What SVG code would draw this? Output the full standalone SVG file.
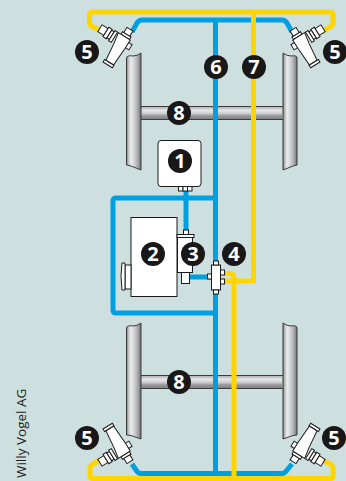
<svg xmlns="http://www.w3.org/2000/svg" width="346" height="481" viewBox="0 0 346 481">
<style>
.y{fill:none;stroke:#ffd500;stroke-width:5;stroke-linejoin:round}
.b{fill:none;stroke:#00a0e0;stroke-width:5;stroke-linejoin:round}
.w{fill:#fff;stroke:#1a1a1a;stroke-width:1}
.bg{fill:#1a1718}
.n{font-family:"Open Sans","Noto Sans",sans-serif;font-weight:700;font-size:20px;fill:#fff;text-anchor:middle}
.s{stroke:#3c3c3c;stroke-width:1}
</style>
<defs>
<linearGradient id="gv" x1="0" x2="1" y1="0" y2="0"><stop offset="0" stop-color="#77797c"/><stop offset=".12" stop-color="#b9bbbd"/><stop offset=".3" stop-color="#eceded"/><stop offset=".55" stop-color="#cfd0d2"/><stop offset=".8" stop-color="#a3a5a8"/><stop offset="1" stop-color="#6c6e71"/></linearGradient>
<linearGradient id="gh" x1="0" x2="0" y1="0" y2="1"><stop offset="0" stop-color="#a9abae"/><stop offset=".3" stop-color="#e6e7e8"/><stop offset=".55" stop-color="#c9cacc"/><stop offset=".72" stop-color="#97999c"/><stop offset="1" stop-color="#7c7e81"/></linearGradient>
<g id="valve">
<rect class="w" x="-26" y="-4" width="7" height="8"/>
<rect class="w" x="-19" y="-5.500" width="4" height="11"/>
<rect class="w" x="-15" y="-4.500" width="3" height="9"/>
<rect class="w" x="-12" y="-6" width="3" height="12"/>
<rect class="w" x="5" y="-3" width="5" height="6"/>
<rect class="w" x="-3.500" y="-15" width="7" height="9"/>
<rect class="w" x="-5" y="-9" width="10" height="3"/>
<path class="w" d="M-8-6H6V4L5 24H-4L-6 6Z"/>
<rect class="w" x="-5.500" y="24" width="11" height="3"/>
</g>
</defs>
<rect width="346" height="481" fill="#cde0df"/>
<g id="axle-front">
<rect x="140" y="106.500" width="142" height="13" fill="url(#gh)"/>
<path d="M140 106.500H283M140 119.500H283" fill="none" class="s"/>
<path d="M126.500 58Q127 55 133 56Q137 56 141 53V170L131 166L126.500 165Z" fill="url(#gv)" class="s"/>
<path d="M283 53Q287 56 291 56Q297 55 297 58V165L293 166L283 170Z" fill="url(#gv)" class="s"/>
</g>
<g id="axle-rear">
<rect x="140" y="375.500" width="142" height="13" fill="url(#gh)"/>
<path d="M140 375.500H283M140 388.500H283" fill="none" class="s"/>
<path d="M126.500 328Q127 325 133 326Q137 326 141 323V439L131 435.500L126.500 435Z" fill="url(#gv)" class="s"/>
<path d="M283 323Q287 326 291 326Q297 325 297 328V435L293 435.500L283 439Z" fill="url(#gv)" class="s"/>
</g>
<g id="connectors">
<path class="b" d="M132 32L137 23Q139 20 142 20H282Q285 20 287 23L292 32"/>
<path class="b" d="M132 464L136 470Q138 473.500 141 473.500H282Q285 473.500 287 470L292 464"/>
<path class="b" d="M215.500 20V473"/>
<path class="b" d="M215.500 198H116Q113 198 113 201V310Q113 313 116 313H215.500"/>
<path class="b" d="M186 190V232"/>
<path class="b" d="M190 277H212"/>
<path class="y" d="M103 32L91.500 26Q89.500 25 89.500 23V15Q89.500 12 92.500 12H330Q333 12 333 15V23Q333 25 331 26L322 32"/>
<path class="y" d="M100 460L92 464.500Q90 466 90 468V475.500Q90 478.500 93 478.500H330Q333 478.500 333 475.500V468Q333 466 331 464.500L322 460"/>
<path class="y" d="M253.500 12V281H222"/>
<path class="y" d="M222 273.500H230Q234 273.500 234 278V481"/>
</g>
<g id="valve-fl"><use href="#valve" transform="translate(122 42) rotate(32)"/></g>
<g id="valve-fr"><use href="#valve" transform="translate(301 42) scale(-1 1) rotate(32)"/></g>
<g id="valve-rl"><use href="#valve" transform="translate(122 449) scale(1 -1) rotate(32)"/></g>
<g id="valve-rr"><use href="#valve" transform="translate(301 449) scale(-1 -1) rotate(32)"/></g>
<g id="node-1">
<rect class="w" x="158" y="140.500" width="43" height="46" rx="3"/>
<rect class="w" x="178.500" y="186.500" width="4.500" height="4.500"/><rect class="w" x="183" y="186.500" width="4.500" height="4.500"/><rect class="w" x="187.500" y="186.500" width="4.500" height="4.500"/>
<circle class="bg" cx="180" cy="161" r="12"/><text class="n" x="180" y="168">1</text>
</g>
<g id="node-2">
<rect class="w" x="131" y="217.500" width="46" height="79"/>
<rect class="w" x="125" y="265" width="6" height="24"/>
<path class="w" d="M125 263H122Q120 276 122 290H125Z"/>
<circle class="bg" cx="153" cy="254" r="12"/><text class="n" x="153" y="261">2</text>
</g>
<g id="node-3">
<rect class="w" x="183.500" y="230" width="5" height="5"/>
<rect class="w" x="177" y="234.500" width="17" height="3"/>
<rect class="w" x="177.500" y="237.500" width="15" height="35"/>
<rect class="w" x="181.500" y="272.500" width="8" height="11"/>
<circle class="bg" cx="193" cy="254" r="12"/><text class="n" x="193" y="261">3</text>
</g>
<g id="node-4">
<rect class="w" x="211.500" y="265" width="9" height="25"/>
<rect class="w" x="213.500" y="261" width="5" height="4"/><rect class="w" x="213.500" y="290" width="5" height="4"/>
<rect class="w" x="207.500" y="274" width="4" height="5"/>
<rect class="w" x="220.500" y="270" width="4" height="5"/><rect class="w" x="220.500" y="279" width="4" height="5"/>
<circle class="bg" cx="234" cy="254" r="12"/><text class="n" x="234" y="261">4</text>
</g>
<g id="label-5a"><circle class="bg" cx="87" cy="52" r="12"/><text class="n" x="87" y="59">5</text></g>
<g id="label-5b"><circle class="bg" cx="335" cy="52" r="12"/><text class="n" x="335" y="59">5</text></g>
<g id="label-5c"><circle class="bg" cx="87" cy="438" r="12"/><text class="n" x="87" y="445">5</text></g>
<g id="label-5d"><circle class="bg" cx="334" cy="438" r="12"/><text class="n" x="334" y="445">5</text></g>
<g id="label-6"><circle class="bg" cx="216" cy="67" r="12"/><text class="n" x="216" y="74">6</text></g>
<g id="label-7"><circle class="bg" cx="254" cy="67" r="12"/><text class="n" x="254" y="74">7</text></g>
<g id="label-8a"><circle class="bg" cx="179" cy="113" r="12"/><text class="n" x="179" y="120">8</text></g>
<g id="label-8b"><circle class="bg" cx="179" cy="382" r="12"/><text class="n" x="179" y="389">8</text></g>
<text transform="translate(26 478) rotate(-90)" font-family="Open Sans,Noto Sans,sans-serif" font-size="13.500" fill="#222">Willy Vogel AG</text>
</svg>
